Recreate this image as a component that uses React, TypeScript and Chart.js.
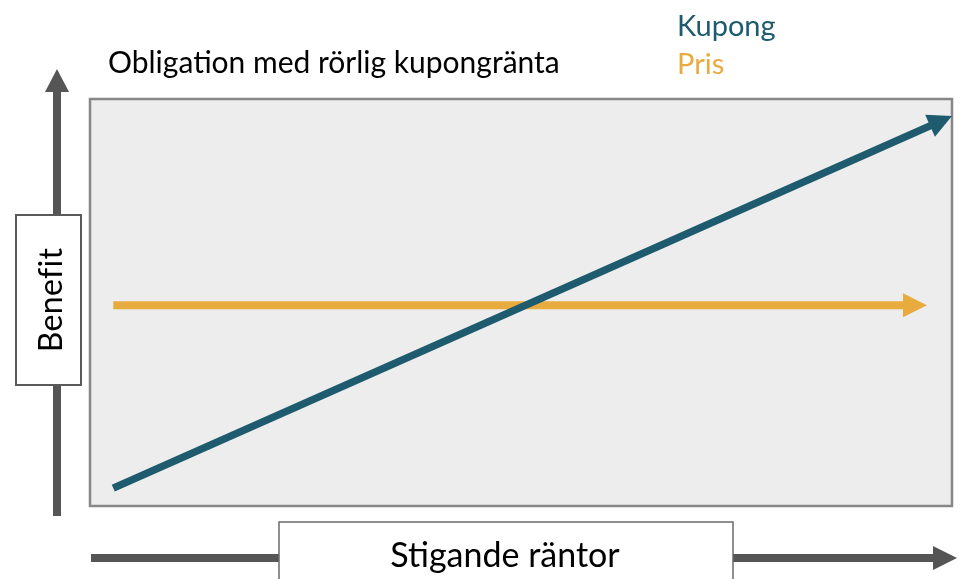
import React, { useEffect, useRef } from "react";
import { Chart, registerables } from "chart.js";

Chart.register(...registerables);

const TITLE = "Obligation med rörlig kupongränta";
const X_AXIS_LABEL = "Stigande räntor";
const Y_AXIS_LABEL = "Benefit";
const SERIES_LABELS = ["Kupong", "Pris"];
const SERIES_COLORS = ["#1e5b6e", "#e8ac3e"];
const KUPONG_X = [2.7, 100];
const KUPONG_Y = [4.4, 95.8];
const PRIS_X = [2.7, 97.1];
const PRIS_Y = [49.3, 49.3];
const AXIS_MIN = 0;
const AXIS_MAX = 100;

const FONT = "Lato, 'Open Sans', sans-serif";
const HEAD_LEN = 24;
const HEAD_HALF = 12;

function toPoints(xs: number[], ys: number[]) {
  return xs.map((x, i) => ({ x, y: ys[i] }));
}

function drawArrow(ctx: CanvasRenderingContext2D, x1: number, y1: number, x2: number, y2: number, width: number, headLen: number, headHalf: number, color: string) {
  const dx = x2 - x1, dy = y2 - y1;
  const L = Math.hypot(dx, dy);
  const ux = dx / L, uy = dy / L;
  const px = -uy, py = ux;
  const bx = x2 - ux * headLen, by = y2 - uy * headLen;
  ctx.save();
  ctx.strokeStyle = color;
  ctx.fillStyle = color;
  ctx.lineWidth = width;
  ctx.lineCap = "butt";
  ctx.beginPath();
  ctx.moveTo(x1, y1);
  ctx.lineTo(bx + ux, by + uy);
  ctx.stroke();
  ctx.beginPath();
  ctx.moveTo(x2, y2);
  ctx.lineTo(bx + px * headHalf, by + py * headHalf);
  ctx.lineTo(bx - px * headHalf, by - py * headHalf);
  ctx.closePath();
  ctx.fill();
  ctx.restore();
}

const backgroundPlugin = {
  id: "plotBackground",
  beforeDraw(chart: any) {
    const { ctx, chartArea: a } = chart;
    ctx.save();
    ctx.fillStyle = "#ffffff";
    ctx.fillRect(0, 0, chart.width, chart.height);
    ctx.fillStyle = "#ededed";
    ctx.fillRect(a.left, a.top, a.right - a.left, a.bottom - a.top);
    ctx.strokeStyle = "#878787";
    ctx.lineWidth = 2.5;
    ctx.strokeRect(a.left, a.top, a.right - a.left, a.bottom - a.top);
    ctx.restore();
  },
};

const arrowHeadPlugin = {
  id: "arrowHeads",
  beforeDatasetDraw(chart: any, args: any) {
    const pts = args.meta.data;
    const n = pts.length;
    const a = pts[n - 2], b = pts[n - 1];
    const dx = b.x - a.x, dy = b.y - a.y;
    const L = Math.hypot(dx, dy);
    const ux = dx / L, uy = dy / L;
    const px = -uy, py = ux;
    const bx = b.x - ux * (HEAD_LEN - 1), by = b.y - uy * (HEAD_LEN - 1);
    const big = 5000;
    const ctx = chart.ctx;
    ctx.save();
    ctx.beginPath();
    ctx.moveTo(bx + px * big, by + py * big);
    ctx.lineTo(bx - px * big, by - py * big);
    ctx.lineTo(bx - px * big - ux * big, by - py * big - uy * big);
    ctx.lineTo(bx + px * big - ux * big, by + py * big - uy * big);
    ctx.closePath();
    ctx.clip();
  },
  afterDatasetDraw(chart: any, args: any) {
    const ctx = chart.ctx;
    ctx.restore();
    const pts = args.meta.data;
    const n = pts.length;
    const a = pts[n - 2], b = pts[n - 1];
    const dx = b.x - a.x, dy = b.y - a.y;
    const L = Math.hypot(dx, dy);
    const ux = dx / L, uy = dy / L;
    const px = -uy, py = ux;
    const bx = b.x - ux * HEAD_LEN, by = b.y - uy * HEAD_LEN;
    ctx.save();
    ctx.fillStyle = chart.data.datasets[args.index].borderColor;
    ctx.beginPath();
    ctx.moveTo(b.x, b.y);
    ctx.lineTo(bx + px * HEAD_HALF, by + py * HEAD_HALF);
    ctx.lineTo(bx - px * HEAD_HALF, by - py * HEAD_HALF);
    ctx.closePath();
    ctx.fill();
    ctx.restore();
  },
};

const decorPlugin = {
  id: "decor",
  afterDraw(chart: any) {
    const { ctx, chartArea: a } = chart;
    const gray = "#555555";
    // vertical axis arrow
    drawArrow(ctx, a.left - 33, a.bottom + 10, a.left - 33, a.top - 30, 8, 23, 12, gray);
    // horizontal axis arrow
    drawArrow(ctx, a.left + 1, a.bottom + 52, chart.width - 6, a.bottom + 52, 8, 24, 12, gray);

    // Benefit box
    ctx.save();
    ctx.fillStyle = "#ffffff";
    ctx.strokeStyle = "#5a5a5a";
    ctx.lineWidth = 2;
    ctx.fillRect(16, 215, 65, 170);
    ctx.strokeRect(16, 215, 65, 170);
    ctx.translate(62, 300);
    ctx.rotate(-Math.PI / 2);
    ctx.fillStyle = "#000000";
    ctx.font = `32px ${FONT}`;
    (ctx as any).letterSpacing = "0.3px";
    ctx.textAlign = "center";
    ctx.textBaseline = "alphabetic";
    ctx.fillText(Y_AXIS_LABEL, 0, 0);
    ctx.restore();

    // Stigande box
    ctx.save();
    ctx.fillStyle = "#ffffff";
    ctx.strokeStyle = "#6a6a6a";
    ctx.lineWidth = 1.5;
    ctx.fillRect(279, 522, 454, 70);
    ctx.strokeRect(279, 522, 454, 70);
    ctx.fillStyle = "#000000";
    ctx.font = `34px ${FONT}`;
    ctx.textAlign = "center";
    ctx.textBaseline = "alphabetic";
    ctx.fillText(X_AXIS_LABEL, 505, 567);
    ctx.restore();

    // Title
    ctx.save();
    ctx.fillStyle = "#000000";
    ctx.font = `30px ${FONT}`;
    ctx.textAlign = "left";
    ctx.textBaseline = "alphabetic";
    ctx.fillText(TITLE, 108, 73);
    // Legend
    ctx.font = `29px ${FONT}`;
    chart.data.datasets.forEach((ds: any, i: number) => {
      ctx.fillStyle = ds.borderColor;
      ctx.fillText(ds.label, 677, 36 + i * 38);
    });
    ctx.restore();
  },
};

export default function App() {
  const ref = useRef<HTMLCanvasElement>(null);
  useEffect(() => {
    if (!ref.current) return;
    const chart = new Chart(ref.current, {
      type: "scatter",
      data: {
        datasets: [
          {
            label: SERIES_LABELS[0],
            data: toPoints(KUPONG_X, KUPONG_Y),
            borderColor: SERIES_COLORS[0],
            backgroundColor: SERIES_COLORS[0],
            borderWidth: 7.5,
            showLine: true,
            pointRadius: 0,
            borderCapStyle: "butt",
            clip: false,
          } as any,
          {
            label: SERIES_LABELS[1],
            data: toPoints(PRIS_X, PRIS_Y),
            borderColor: SERIES_COLORS[1],
            backgroundColor: SERIES_COLORS[1],
            borderWidth: 8,
            showLine: true,
            pointRadius: 0,
            borderCapStyle: "butt",
            clip: false,
          } as any,
        ],
      },
      options: {
        responsive: false,
        animation: false,
        devicePixelRatio: 1,
        layout: { padding: { left: 90, top: 99, right: 11, bottom: 73 } },
        scales: {
          x: { type: "linear", min: AXIS_MIN, max: AXIS_MAX, display: false },
          y: { type: "linear", min: AXIS_MIN, max: AXIS_MAX, display: false },
        },
        plugins: {
          legend: { display: false },
          title: { display: false },
          tooltip: { enabled: false },
        },
      },
      plugins: [backgroundPlugin, arrowHeadPlugin, decorPlugin],
    });
    return () => chart.destroy();
  }, []);
  return (
    <div style={{ position: "absolute", left: 0, top: 0, width: 963, height: 579, overflow: "hidden" }}>
      <canvas ref={ref} width={963} height={579} style={{ display: "block" }} />
    </div>
  );
}
